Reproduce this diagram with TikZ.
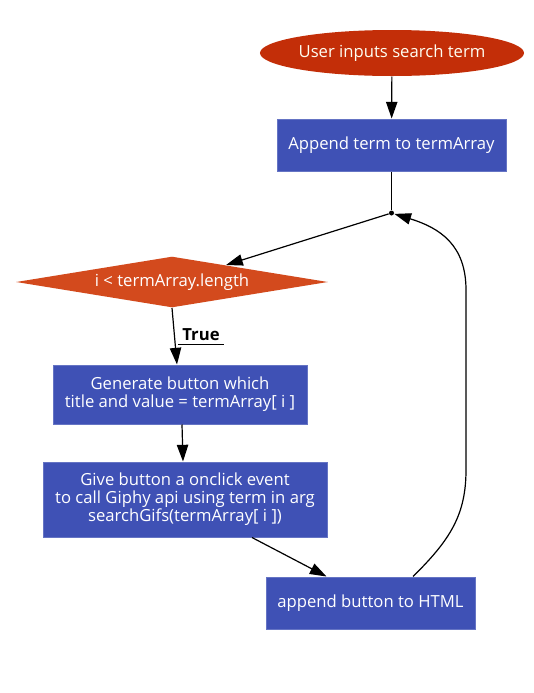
\documentclass[tikz,border=0pt]{standalone}
\usepackage{fontspec}
\setmainfont{Open Sans}
\usetikzlibrary{shapes.geometric,arrows.meta}

\definecolor{startred}{HTML}{C32E08}
\definecolor{decorange}{HTML}{D34A1D}
\definecolor{stepblue}{HTML}{3F51B5}

\tikzset{every picture/.style={line width=0.75pt}}
\tikzset{
  boxfont/.style={font=\fontsize{12.5}{13.5}\selectfont},
  stepbox/.style={rectangle,fill=stepblue,draw=stepblue!80!white,text=white,align=center,inner sep=0pt,boxfont},
  flow/.style={draw=black,line width=0.9pt,-{Triangle[length=12.5pt,width=8.5pt]}},
}

\begin{document}
\begin{tikzpicture}[x=0.75pt,y=0.75pt,yscale=-1,xscale=1]
\useasboundingbox (0,0) rectangle (534,693);

%Shape: Ellipse [id:start]
\node (user) [ellipse,fill=startred,text=white!95!yellow,minimum width=195pt,minimum height=34.5pt,inner sep=0pt,boxfont] at (392,53) {User inputs search term};
%Shape: Rectangle [id:append]
\node (append) [stepbox,minimum width=171.75pt,minimum height=39pt] at (391.5,145) {Append term to termArray};
%Shape: Circle [id:junction]
\node (junction) [circle,fill=black,inner sep=0pt,minimum size=3.75pt] at (391.5,213) {};
%Shape: Diamond [id:loop]
\node (cond) [diamond,fill=decorange,text=white,shape aspect=6,minimum width=234pt,minimum height=38.25pt,inner sep=0pt,boxfont] at (172,282) {i < termArray.length};
%Shape: Rectangle [id:generate]
\node (gen) [stepbox,minimum width=190.5pt,minimum height=44.25pt] at (180,394.5) {Generate button which\\title and value = termArray[ i ]};
%Shape: Rectangle [id:onclick]
\node (give) [stepbox,minimum width=213pt,minimum height=56.25pt] at (185,499.5) {Give button a onclick event\\to call Giphy api using term in arg\\searchGifs(termArray[ i ])};
%Shape: Rectangle [id:html]
\node (html) [stepbox,minimum width=156.75pt,minimum height=39pt] at (370.5,603) {append button to HTML};

%Straight Lines
\draw [flow] (user) -- (append);
\draw [line width=0.9pt] (append) -- (junction);
\draw [flow] (junction) -- (cond);
\draw [flow] (cond.south) -- ([xshift=-2.25pt]gen.north);
\draw [flow] ([xshift=1.5pt]gen.south) -- ([xshift=-1.5pt]give.north);
\draw [flow] ([xshift=50.25pt]give.south) -- ([xshift=-33pt]html.north);

%Curve Lines
\draw [flow] ([xshift=31.9pt]html.north) .. controls (450,540) and (466,515) .. (466,470) -- (466,290) .. controls (466,245) and (440,228) .. (junction);

% Text Node
\node (truelbl) [inner xsep=3pt,inner ysep=2pt,font=\bfseries\fontsize{12.5}{13.5}\selectfont] at (201,335) {True};
\draw [line width=0.9pt] (truelbl.south west) -- (truelbl.south east);

\end{tikzpicture}
\end{document}
